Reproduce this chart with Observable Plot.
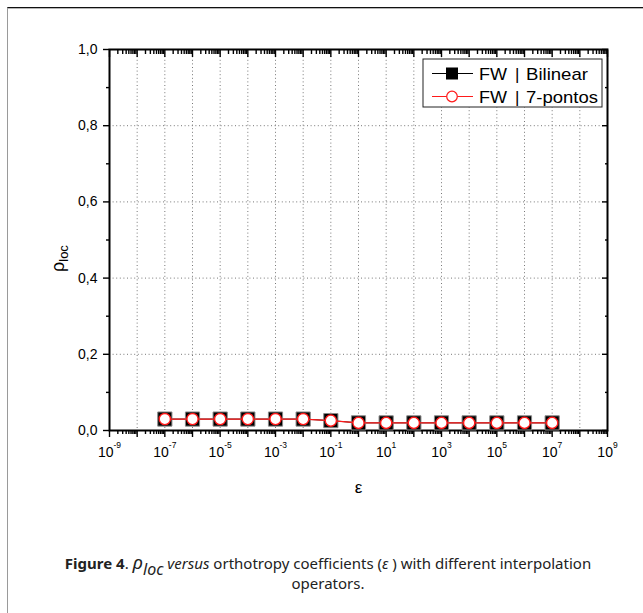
<!DOCTYPE html>
<html><head><meta charset="utf-8">
<script src="https://cdn.jsdelivr.net/npm/d3@7"></script>
<script src="https://cdn.jsdelivr.net/npm/@observablehq/plot@0.6"></script>
<style>
body{margin:0;background:#fff;}
#wrap{position:relative;width:643px;height:613px;overflow:hidden;background:#fff;}
#border{position:absolute;left:7px;top:7px;width:700px;height:700px;border-top:1px solid #111;border-left:1px solid #9a9a9a;box-shadow:inset 0 1px 0 #b5b5b5;}
#chart{position:absolute;left:0;top:0;}
#caption{position:absolute;left:30px;width:596px;top:552px;font-family:"Noto Sans",sans-serif;font-size:15px;line-height:20px;text-align:center;color:#222;}
#caption .rho{font-size:19px;font-style:italic;}
#caption .sub{font-size:16px;font-style:italic;position:relative;top:6px;line-height:0;}
</style>
</head><body>
<div id="wrap"><div id="border"></div><div id="chart"></div>
<div id="caption"><b>Figure 4</b>. <span class="rho">ρ</span><span class="sub">loc</span> <i>versus</i> orthotropy coefficients (<i>ε</i> ) with different interpolation<br>operators.</div>
</div>
<script>
// Data
const epsilon = [1e-7,1e-6,1e-5,1e-4,1e-3,1e-2,1e-1,1e0,1e1,1e2,1e3,1e4,1e5,1e6,1e7];
const rhoBilinear = [0.030,0.030,0.030,0.030,0.030,0.030,0.026,0.020,0.020,0.020,0.020,0.020,0.020,0.020,0.020];
const rho7pontos  = [0.030,0.030,0.030,0.030,0.030,0.030,0.026,0.020,0.020,0.020,0.020,0.020,0.020,0.020,0.020];
const xLabelTicks = [1e-9,1e-7,1e-5,1e-3,1e-1,1e1,1e3,1e5,1e7,1e9];
const xDecades = [1e-9,1e-8,1e-7,1e-6,1e-5,1e-4,1e-3,1e-2,1e-1,1e0,1e1,1e2,1e3,1e4,1e5,1e6,1e7,1e8,1e9];
const xGridTicks = [1e-8,1e-7,1e-6,1e-5,1e-4,1e-3,1e-2,1e-1,1e0,1e1,1e2,1e3,1e4,1e5,1e6,1e7,1e8];
const xMinorMultipliers = [2,3,4,5,6,7,8,9];
const yTicks = [0,0.2,0.4,0.6,0.8,1.0];
const yTickLabels = ["0,0","0,2","0,4","0,6","0,8","1,0"];
const yMinor = [0.1,0.3,0.5,0.7,0.9];
const yGrid = [0.2,0.4,0.6,0.8];
const seriesNames = ["FW", "|", "Bilinear", "7-pontos"];

const xMinor = xDecades.slice(0,-1).flatMap(d => xMinorMultipliers.map(m => d*m));
const dataB = epsilon.map((e,i)=>({x:e,y:rhoBilinear[i]}));
const dataR = epsilon.map((e,i)=>({x:e,y:rho7pontos[i]}));

const tickStyle = {stroke:"#000", strokeWidth:1.4, tickFormat:()=>"", label:null};
const chart = Plot.plot({
  width:643, height:520,
  marginLeft:109, marginRight:36, marginTop:49, marginBottom:90,
  style:{fontFamily:"'Liberation Sans', Arial, sans-serif", fontSize:"14px", color:"#000", background:"transparent", overflow:"visible"},
  x:{type:"log", domain:[1e-9,1e9]},
  y:{domain:[0,1]},
  marks:[
    Plot.gridX(xGridTicks, {stroke:"#777", strokeOpacity:1, strokeDasharray:"1,2.6", strokeWidth:1}),
    Plot.gridY(yGrid, {stroke:"#777", strokeOpacity:1, strokeDasharray:"1,2.6", strokeWidth:1}),
    // bottom axis (outward)
    Plot.axisX(xMinor, {anchor:"bottom", tickSize:4, ...tickStyle}),
    Plot.axisX(xDecades, {anchor:"bottom", tickSize:7, ...tickStyle}),
    Plot.axisX(xLabelTicks, {anchor:"bottom", tickSize:0, tickPadding:17, fontSize:14, label:null,
      tickFormat:d=>String(Math.round(Math.log10(d)))}),
    // top axis (inward)
    Plot.axisX(xMinor, {anchor:"top", tickSize:-4, ...tickStyle}),
    Plot.axisX(xDecades, {anchor:"top", tickSize:-7, ...tickStyle}),
    // left axis (outward)
    Plot.axisY(yMinor, {anchor:"left", tickSize:3, ...tickStyle}),
    Plot.axisY(yTicks, {anchor:"left", tickSize:6, ...tickStyle}),
    Plot.axisY(yTicks, {anchor:"left", tickSize:0, tickPadding:12, fontSize:14, label:null,
      tickFormat:d=>yTickLabels[yTicks.indexOf(d)]}),
    // right axis (inward)
    Plot.axisY(yMinor, {anchor:"right", tickSize:-3, ...tickStyle}),
    Plot.axisY(yTicks, {anchor:"right", tickSize:-6, ...tickStyle}),
    Plot.frame({stroke:"#000", strokeWidth:2}),
    // series
    Plot.line(dataB, {x:"x", y:"y", stroke:"#000", strokeWidth:1}),
    Plot.dot(dataB, {x:"x", y:"y", symbol:"square", r:8, fill:"#000", stroke:"#888", strokeWidth:1}),
    Plot.line(dataR, {x:"x", y:"y", stroke:"#ff1a1a", strokeWidth:1.2}),
    Plot.dot(dataR, {x:"x", y:"y", symbol:"circle", r:5.6, fill:"#fff", stroke:"#ff1a1a", strokeWidth:1.4}),
    Plot.text(["ε"], {frameAnchor:"bottom", dy:62, fontSize:17, fill:"#000"})
  ]
});
document.getElementById("chart").appendChild(chart);
const svg = d3.select(chart);
// superscript exponents on x tick labels
svg.selectAll('g[aria-label="x-axis tick label"] text').each(function(){
  const t = d3.select(this); const e = t.text();
  if (!e) return;
  t.text("10"); t.append("tspan").attr("dy","-9").attr("font-size","8.5px").text(e);
});
// y label
const yl = svg.append("text").attr("transform","translate(64,272) rotate(-90)")
  .attr("text-anchor","start")
  .attr("font-family","'Liberation Sans', Arial, sans-serif").attr("fill","#000");
yl.append("tspan").attr("font-size","18px").text("ρ");
yl.append("tspan").attr("font-size","13px").attr("dy","4").text("loc");
// legend
const lg = svg.append("g").attr("text-anchor","start").attr("font-family","'Liberation Sans', Arial, sans-serif").attr("font-size","17px").attr("fill","#000");
lg.append("rect").attr("x",423).attr("y",59).attr("width",179).attr("height",48).attr("fill","#fff").attr("stroke","#222").attr("stroke-width",1);
const rows = [{y:73.5, stroke:"#000", label:seriesNames[2], len:63},{y:96.5, stroke:"#ff1a1a", label:seriesNames[3], len:73}];
rows.forEach((r,i)=>{
  lg.append("line").attr("x1",432).attr("x2",473).attr("y1",r.y).attr("y2",r.y).attr("stroke",r.stroke).attr("stroke-width",1.2);
  if(i===0) lg.append("rect").attr("x",446).attr("y",r.y-6).attr("width",12).attr("height",12).attr("fill","#000");
  else lg.append("circle").attr("cx",452).attr("cy",r.y).attr("r",5.3).attr("fill","#fff").attr("stroke","#ff1a1a").attr("stroke-width",1.2);
  lg.append("text").attr("x",479).attr("y",r.y+6.5).attr("textLength",28).attr("lengthAdjust","spacingAndGlyphs").text(seriesNames[0]);
  lg.append("text").attr("x",515).attr("y",r.y+6.5).text(seriesNames[1]);
  lg.append("text").attr("x",526).attr("y",r.y+6.5).attr("textLength",r.len-1).attr("lengthAdjust","spacingAndGlyphs").text(r.label);
});
</script>
</body></html>
